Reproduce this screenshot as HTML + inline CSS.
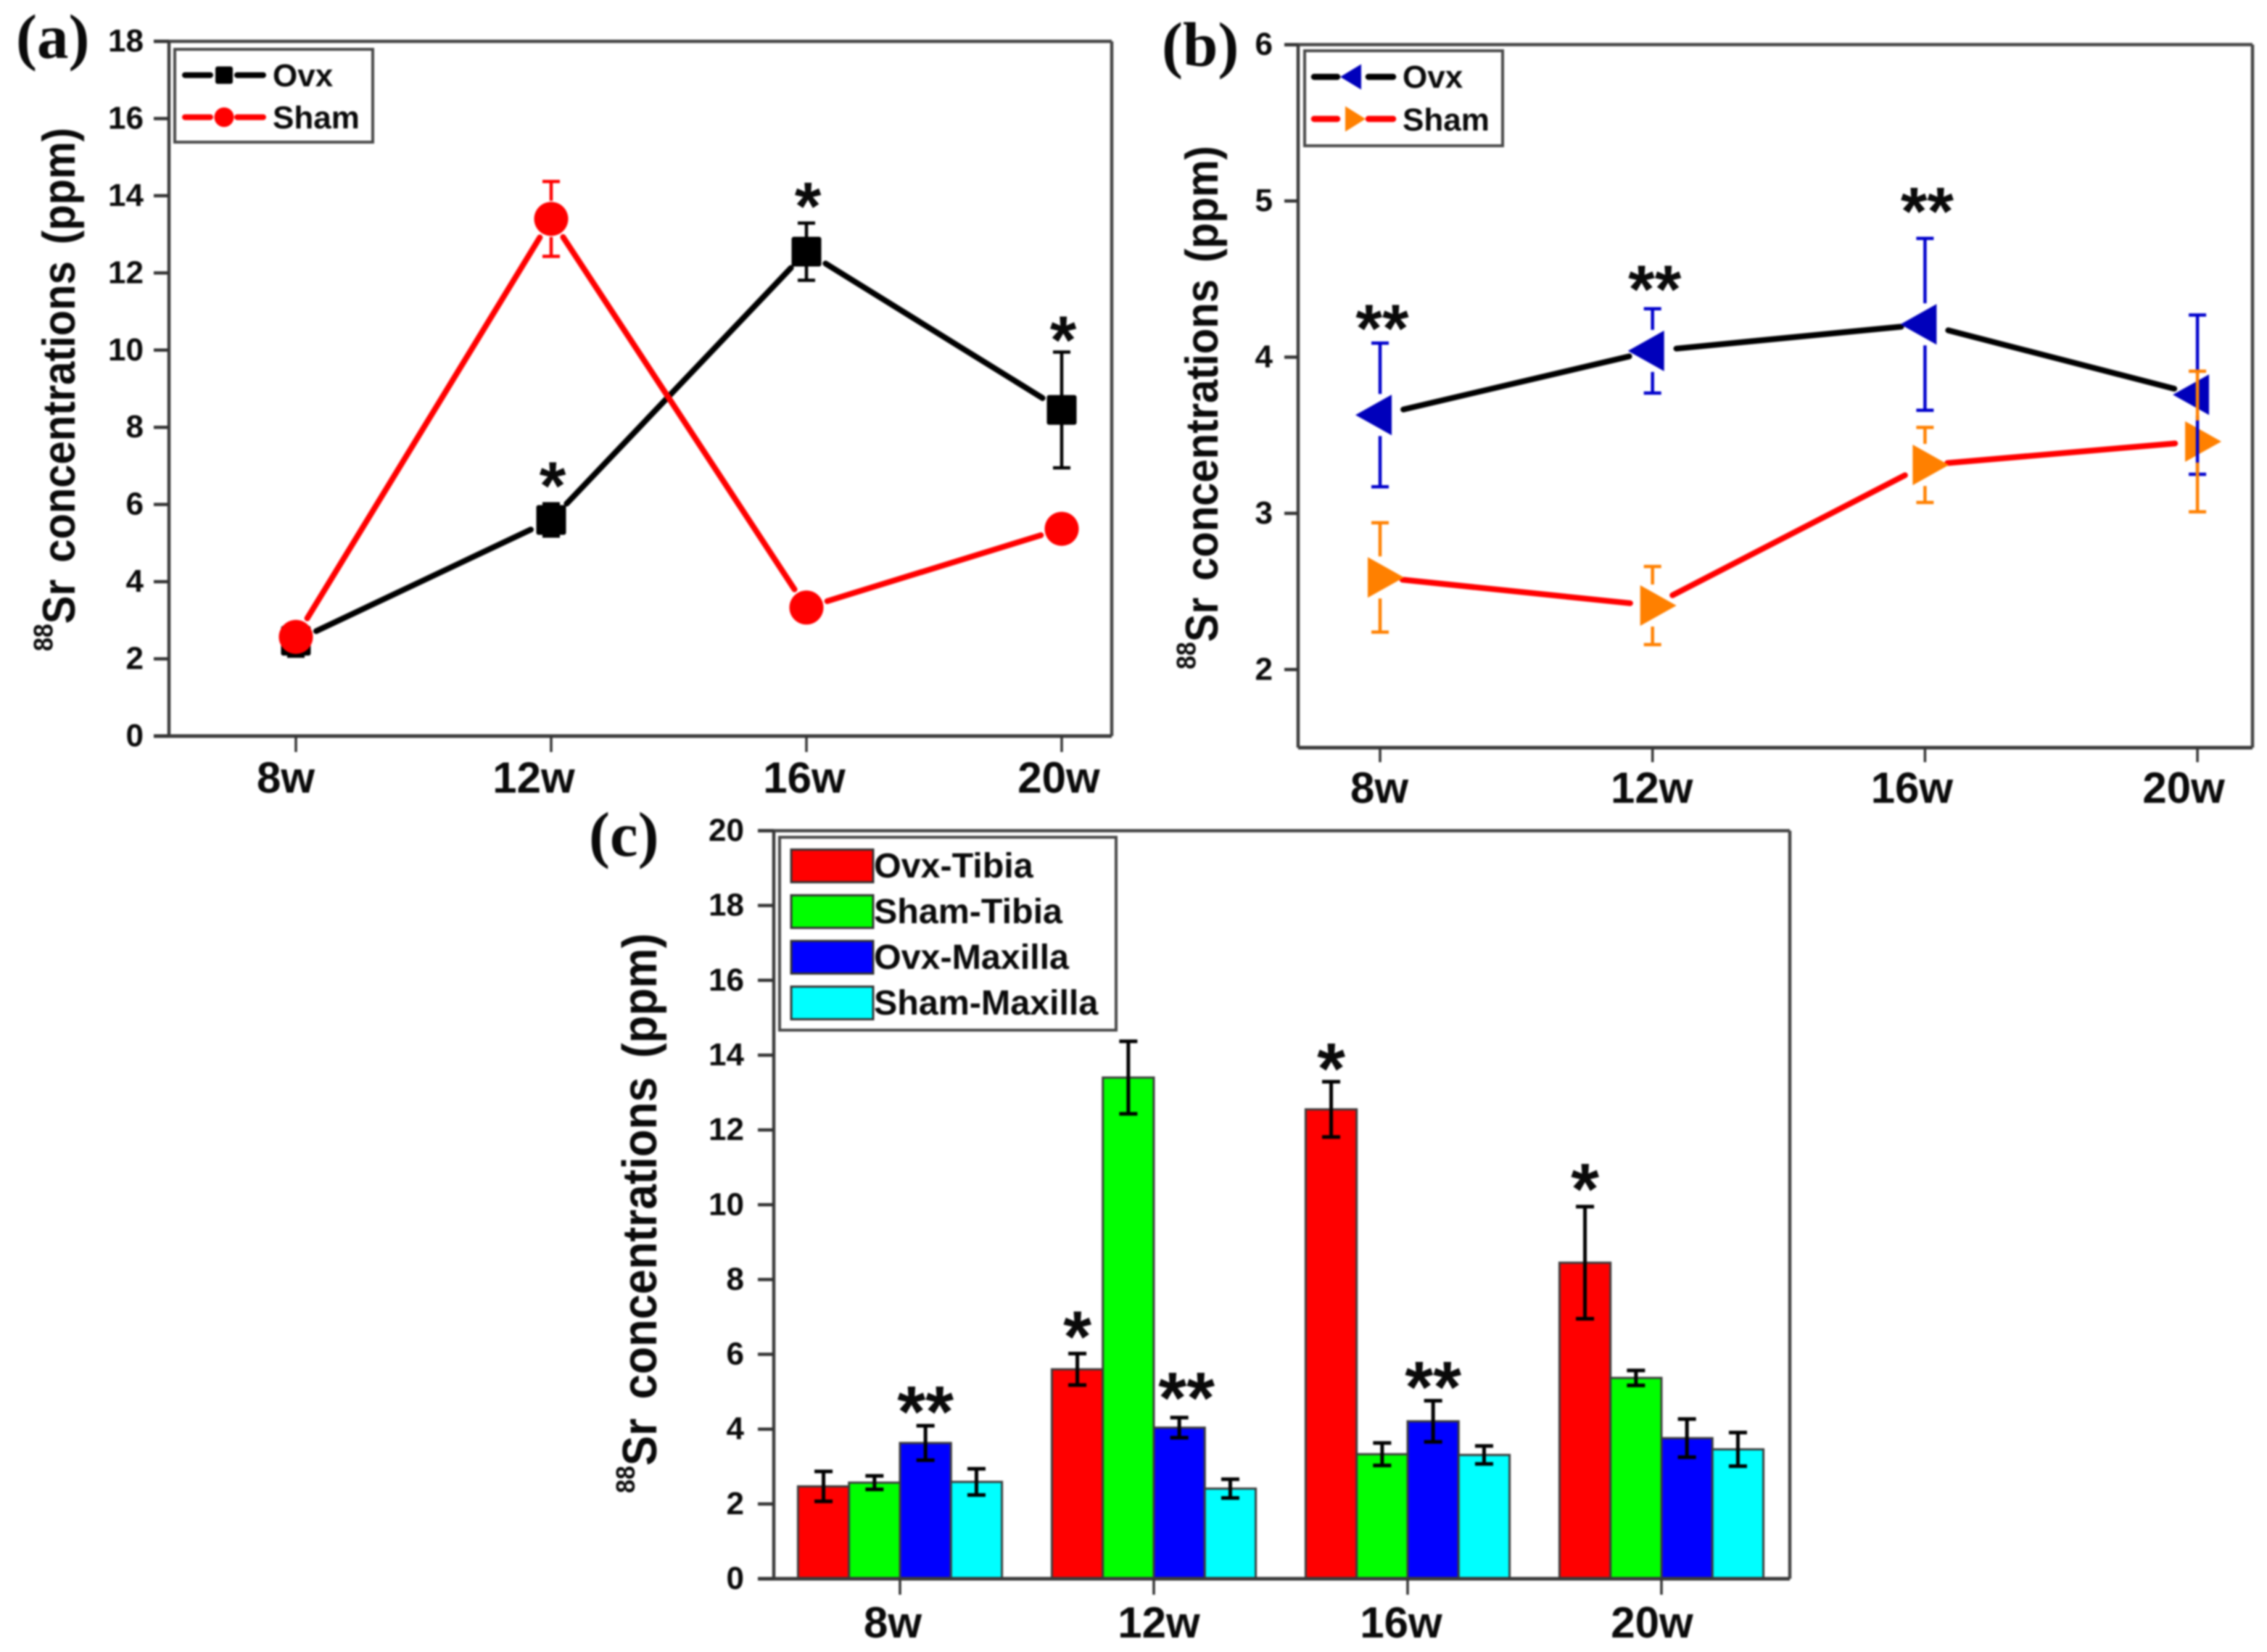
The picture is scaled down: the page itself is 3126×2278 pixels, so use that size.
<!DOCTYPE html>
<html lang="en">
<head>
<meta charset="utf-8">
<title>88Sr concentrations</title>
<style>
html,body{margin:0;padding:0;background:#fff;}
svg{display:block;filter:blur(1.2px);}
text{font-family:"Liberation Sans",sans-serif;font-weight:bold;fill:#0a0a0a;}
.serif{font-family:"Liberation Serif",serif;}
</style>
</head>
<body>
<svg id="figure" xmlns="http://www.w3.org/2000/svg" width="3126" height="2278" viewBox="0 0 3126 2278">
<rect width="3126" height="2278" fill="#ffffff"/>
</svg>
<script>
const weeks = ['8w', '12w', '16w', '20w'];

const ovxTibia = [2.47, 5.6, 12.55, 8.45];
const ovxTibiaErr = [0.4, 0.42, 0.74, 1.5];
const shamTibia = [2.57, 13.4, 3.33, 5.37];
const shamTibiaErr = [0.18, 0.97, 0.3, 0.2];
const ovxMaxilla = [3.63, 4.04, 4.21, 3.76];
const ovxMaxillaErr = [0.46, 0.27, 0.55, 0.51];
const shamMaxilla = [2.59, 2.41, 3.31, 3.46];
const shamMaxillaErr = [0.35, 0.25, 0.24, 0.45];

const aTickLabels = [0, 2, 4, 6, 8, 10, 12, 14, 16, 18];
const bTickLabels = [2, 3, 4, 5, 6];
const cTickLabels = [0, 2, 4, 6, 8, 10, 12, 14, 16, 18, 20];

const aStars = ['', '*', '*', '*'];
const aStarLevels = [null, 6.71, 13.95, 10.49];
const bStars = ['**', '**', '**', ''];
const bStarLevels = [4.24, 4.49, 4.99, null];
const cStarsOvxTibia = ['', '*', '*', '*'];
const cStarLevelsOvxTibia = [null, 6.72, 13.88, 10.66];
const cStarsOvxMaxilla = ['**', '**', '**', ''];
const cStarLevelsOvxMaxilla = [4.71, 5.08, 5.37, null];

const svg = document.getElementById('figure');
const NS = 'http://www.w3.org/2000/svg';

function add(parent, tag, attrs, text) {
  const node = document.createElementNS(NS, tag);
  for (const key in attrs) node.setAttribute(key, attrs[key]);
  if (text !== undefined) node.textContent = text;
  parent.appendChild(node);
  return node;
}

function group(name) {
  const g = add(svg, 'g', {});
  
  
  return g;
}

function drawLine(parent, name, x1, y1, x2, y2, color, width, cap) {
  const el = add(parent, 'line', { x1, y1, x2, y2, stroke: color, 'stroke-width': width, 'stroke-linecap': cap || 'butt' });
  
  
  return el;
}

function drawText(parent, name, x, y, size, anchor, content, cls) {
  const el = add(parent, 'text', { x, y, 'font-size': size, 'text-anchor': anchor }, content);
  if (cls) el.setAttribute('class', cls);
  
  
  return el;
}

function drawAxes(g, frame, ticks, yScale, xScale, labelShift, tickEndX, labelBaseline) {
  drawLine(g, 'top-axis-line', frame.tickLeft, frame.top, frame.right, frame.top, '#444', 4.5);
  drawLine(g, 'right-axis-line', frame.right, frame.top, frame.right, frame.bottom, '#444', 4.5);
  drawLine(g, 'y-axis-line', frame.left, frame.top, frame.left, frame.bottom, '#3a3a3a', 4.5);
  drawLine(g, 'x-axis-line', frame.bottomLeft, frame.bottom, frame.right, frame.bottom, '#3a3a3a', 5);
  ticks.forEach(function (t) {
    const py = yScale(t);
    drawLine(g, 'y-tick-' + t, frame.tickLeft, py, frame.left, py, '#333', 4.5);
    drawText(g, 'y-tick-label-' + t, tickEndX, py + 14, 44, 'end', String(t));
  });
  weeks.forEach(function (w, i) {
    const px = xScale(i);
    drawLine(g, 'x-tick-' + w, px, frame.bottom, px, frame.tickBottom, '#333', 3.5);
    drawText(g, 'x-tick-label-' + w, px + labelShift[i], labelBaseline, 60, 'middle', w);
  });
}

function drawYTitle(g, baselineX, bottomY, size, perpScale, wordGap) {
  const el = add(g, 'text', { transform: 'translate(' + baselineX + ',' + bottomY + ') rotate(-90) scale(1,' + perpScale + ')', 'font-size': size, 'word-spacing': wordGap });
  
  
  const sup = add(el, 'tspan', { 'font-size': 34, dy: -28 }, '88');
  
  
  const rest = add(el, 'tspan', { dy: 28 }, 'Sr concentrations (ppm)');
  
  
}

function drawGappedPath(g, name, xs, ys, color, width, gap) {
  for (let i = 0; i < xs.length - 1; i++) {
    const dx = xs[i + 1] - xs[i];
    const dy = ys[i + 1] - ys[i];
    const len = Math.hypot(dx, dy);
    const ux = dx / len;
    const uy = dy / len;
    drawLine(g, name + '-segment-' + weeks[i], xs[i] + ux * gap, ys[i] + uy * gap, xs[i + 1] - ux * gap, ys[i + 1] - uy * gap, color, width, 'round');
  }
}

function drawErrorBar(g, name, x, yTop, yBottom, yCenter, gap, color, width, capHalf) {
  const topEnd = Math.min(yCenter - gap, yBottom);
  const bottomEnd = Math.max(yCenter + gap, yTop);
  if (yTop < topEnd) {
    drawLine(g, name + '-upper', x, yTop, x, topEnd, color, width);
    drawLine(g, name + '-upper-cap', x - capHalf, yTop, x + capHalf, yTop, color, width);
  }
  if (yBottom > bottomEnd) {
    drawLine(g, name + '-lower', x, bottomEnd, x, yBottom, color, width);
    drawLine(g, name + '-lower-cap', x - capHalf, yBottom, x + capHalf, yBottom, color, width);
  }
}

function drawSquare(g, name, x, y, half, fill) {
  const el = add(g, 'rect', { x: x - half, y: y - half, width: half * 2, height: half * 2, rx: 3, fill: fill });
  
  
}

function drawCircle(g, name, x, y, r, fill) {
  const el = add(g, 'circle', { cx: x, cy: y, r: r, fill: fill });
  
  
}

function drawTriangle(g, name, x, y, tipOffset, baseOffset, halfHeight, fill) {
  const points = (x + tipOffset) + ',' + y + ' ' + (x + baseOffset) + ',' + (y - halfHeight) + ' ' + (x + baseOffset) + ',' + (y + halfHeight);
  const el = add(g, 'polygon', { points: points, fill: fill });
  
  
}

function drawLegendBox(g, x, y, w, h) {
  const el = add(g, 'rect', { x: x, y: y, width: w, height: h, fill: '#fff', stroke: '#484848', 'stroke-width': 4 });
  
  
}

function drawStar(g, name, x, y, size, content) {
  drawText(g, name, x, y + size * 0.47, size, 'middle', content);
}

/* ---------- Panel (a) ---------- */
(function () {
  const g = group('panel-a');
  const xA = function (i) { return 408 + i * 352; };
  const yA = function (v) { return 1015 - v * (958 / 18); };
  drawText(g, 'panel-a-label', 22, 80, 87, 'start', '(a)', 'serif');
  drawYTitle(g, 103, 898, 58, 1.09, 7);
  const ovxY = ovxTibia.map(yA);
  const shamY = shamTibia.map(yA);
  const xs = weeks.map(function (w, i) { return xA(i); });
  drawGappedPath(g, 'ovx-line', xs, ovxY, '#000', 8, 31);
  weeks.forEach(function (w, i) {
    drawErrorBar(g, 'ovx-error-' + w, xs[i], yA(ovxTibia[i] + ovxTibiaErr[i]), yA(ovxTibia[i] - ovxTibiaErr[i]), ovxY[i], 20, '#000', 4.5, 12);
    drawSquare(g, 'ovx-marker-' + w, xs[i], ovxY[i], 20.5, '#000');
  });
  drawGappedPath(g, 'sham-line', xs, shamY, '#ff0000', 8, 30);
  weeks.forEach(function (w, i) {
    drawErrorBar(g, 'sham-error-' + w, xs[i], yA(shamTibia[i] + shamTibiaErr[i]), yA(shamTibia[i] - shamTibiaErr[i]), shamY[i], 25, '#ff0000', 4.5, 12);
    drawCircle(g, 'sham-marker-' + w, xs[i], shamY[i], 23.5, '#ff0000');
  });
  aStars.forEach(function (s, i) {
    if (s) drawStar(g, 'significance-star-' + weeks[i], xs[i] + 2, yA(aStarLevels[i]), 94, s);
  });
  drawAxes(g, { left: 233, right: 1533, top: 57, bottom: 1015, tickLeft: 212, bottomLeft: 212, tickBottom: 1037 }, aTickLabels, yA, xA, [-14, -24, -3, -4], 198, 1093);

  const lg = add(g, 'g', {});
  
  
  drawLegendBox(lg, 241, 68, 273, 128);
  drawLine(lg, 'legend-ovx-line-left', 255, 103.6, 290, 103.6, '#000', 8, 'round');
  drawLine(lg, 'legend-ovx-line-right', 327, 103.6, 363, 103.6, '#000', 8, 'round');
  drawSquare(lg, 'legend-ovx-marker', 309, 103.6, 12, '#000');
  drawText(lg, 'legend-ovx-label', 376, 119, 44, 'start', 'Ovx');
  drawLine(lg, 'legend-sham-line-left', 255, 161.6, 290, 161.6, '#ff0000', 8, 'round');
  drawLine(lg, 'legend-sham-line-right', 327, 161.6, 363, 161.6, '#ff0000', 8, 'round');
  drawCircle(lg, 'legend-sham-marker', 309, 161.6, 13.5, '#ff0000');
  drawText(lg, 'legend-sham-label', 376, 177, 44, 'start', 'Sham');
})();

/* ---------- Panel (b) ---------- */
(function () {
  const g = group('panel-b');
  const xB = function (i) { return 1903 + i * 375.7; };
  const yB = function (v) { return 1031 - (v - 1.5) * 215.4; };
  drawText(g, 'panel-b-label', 1602, 91, 87, 'start', '(b)', 'serif');
  drawYTitle(g, 1679, 923, 58, 1.09, 7);
  const ovxY = ovxMaxilla.map(yB);
  const shamY = shamMaxilla.map(yB);
  const xs = weeks.map(function (w, i) { return xB(i); });
  drawGappedPath(g, 'ovx-line', xs, ovxY, '#000', 8, 33);
  drawGappedPath(g, 'sham-line', xs, shamY, '#ff0000', 8, 31);
  weeks.forEach(function (w, i) {
    drawTriangle(g, 'ovx-marker-' + w, xs[i], ovxY[i], -34, 16, 28, '#0000bb');
    drawTriangle(g, 'sham-marker-' + w, xs[i], shamY[i], 33, -17, 28, '#ff8000');
  });
  weeks.forEach(function (w, i) {
    drawErrorBar(g, 'ovx-error-' + w, xs[i], yB(ovxMaxilla[i] + ovxMaxillaErr[i]), yB(ovxMaxilla[i] - ovxMaxillaErr[i]), ovxY[i], 29, '#0000cc', 4.5, 12);
    drawErrorBar(g, 'sham-error-' + w, xs[i], yB(shamMaxilla[i] + shamMaxillaErr[i]), yB(shamMaxilla[i] - shamMaxillaErr[i]), shamY[i], 29, '#ff8000', 4.5, 12);
  });
  bStars.forEach(function (s, i) {
    if (s) drawStar(g, 'significance-stars-' + weeks[i], xs[i] + 3, yB(bStarLevels[i]), 94, s);
  });
  drawAxes(g, { left: 1790, right: 3106, top: 61.5, bottom: 1031, tickLeft: 1771, bottomLeft: 1790, tickBottom: 1051 }, bTickLabels, yB, xB, [-1, -1, -18, -19], 1755, 1107);

  const lg = add(g, 'g', {});
  
  
  drawLegendBox(lg, 1799, 70, 273, 131);
  drawLine(lg, 'legend-ovx-line-left', 1812, 106, 1844, 106, '#000', 8.5, 'round');
  drawLine(lg, 'legend-ovx-line-right', 1887, 106, 1921, 106, '#000', 8.5, 'round');
  drawTriangle(lg, 'legend-ovx-marker', 1866, 106, -18, 11, 17.5, '#0000bb');
  drawText(lg, 'legend-ovx-label', 1934, 121, 44, 'start', 'Ovx');
  drawLine(lg, 'legend-sham-line-left', 1812, 164, 1844, 164, '#ff0000', 8.5, 'round');
  drawLine(lg, 'legend-sham-line-right', 1887, 164, 1921, 164, '#ff0000', 8.5, 'round');
  drawTriangle(lg, 'legend-sham-marker', 1866, 164, 17, -11, 17.5, '#ff8000');
  drawText(lg, 'legend-sham-label', 1934, 180, 44, 'start', 'Sham');
})();

/* ---------- Panel (c) ---------- */
(function () {
  const g = group('panel-c');
  const xC = function (i) { return 1241 + i * 350; };
  const yC = function (v) { return 2177 - v * 51.575; };
  const barW = 70.3;
  drawText(g, 'panel-c-label', 812, 1180, 87, 'start', '(c)', 'serif');
  drawYTitle(g, 905, 2059, 62, 1.07, 9);

  const barSeries = [
    { name: 'ovx-tibia', values: ovxTibia, errs: ovxTibiaErr, fill: '#ff0000' },
    { name: 'sham-tibia', values: shamTibia, errs: shamTibiaErr, fill: '#00ff00' },
    { name: 'ovx-maxilla', values: ovxMaxilla, errs: ovxMaxillaErr, fill: '#0000ff' },
    { name: 'sham-maxilla', values: shamMaxilla, errs: shamMaxillaErr, fill: '#00ffff' }
  ];
  barSeries.forEach(function (s, k) {
    weeks.forEach(function (w, i) {
      const bx = xC(i) + (k - 2) * barW;
      const by = yC(s.values[i]);
      const bar = add(g, 'rect', { x: bx, y: by, width: barW, height: yC(0) - by, fill: s.fill, stroke: '#3c3c3c', 'stroke-width': 3 });
      
      
    });
  });
  barSeries.forEach(function (s, k) {
    weeks.forEach(function (w, i) {
      const cx = xC(i) + (k - 1.5) * barW;
      drawErrorBar(g, 'error-' + s.name + '-' + w, cx, yC(s.values[i] + s.errs[i]), yC(s.values[i] - s.errs[i]), yC(s.values[i]), 0, '#000', 5, 12.5);
    });
  });
  cStarsOvxTibia.forEach(function (s, i) {
    if (s) drawStar(g, 'significance-star-ovx-tibia-' + weeks[i], xC(i) - 1.5 * barW, yC(cStarLevelsOvxTibia[i]), 100, s);
  });
  cStarsOvxMaxilla.forEach(function (s, i) {
    if (s) drawStar(g, 'significance-stars-ovx-maxilla-' + weeks[i], xC(i) + 0.5 * barW + (i === 1 ? 10 : 0), yC(cStarLevelsOvxMaxilla[i]), 100, s);
  });
  drawAxes(g, { left: 1067, right: 2468, top: 1145.5, bottom: 2177, tickLeft: 1045, bottomLeft: 1045, tickBottom: 2199 }, cTickLabels, yC, xC, [-10, 7, -9, -13], 1026, 2258);

  const lg = add(g, 'g', {});
  
  
  drawLegendBox(lg, 1075, 1154.5, 464, 266);
  const legendRowY = function (k) { return 1194 + k * 63; };
  barSeries.forEach(function (s, k) {
    const sw = add(lg, 'rect', { x: 1091, y: legendRowY(k) - 22.5, width: 113, height: 45, fill: s.fill, stroke: '#333', 'stroke-width': 3 });
    
    
  });
  const legendNames = ['Ovx-Tibia', 'Sham-Tibia', 'Ovx-Maxilla', 'Sham-Maxilla'];
  legendNames.forEach(function (n, k) {
    drawText(lg, 'legend-label-' + barSeries[k].name, 1205, legendRowY(k) + 16, 48.4, 'start', n);
  });
})();
</script>
</body>
</html>
